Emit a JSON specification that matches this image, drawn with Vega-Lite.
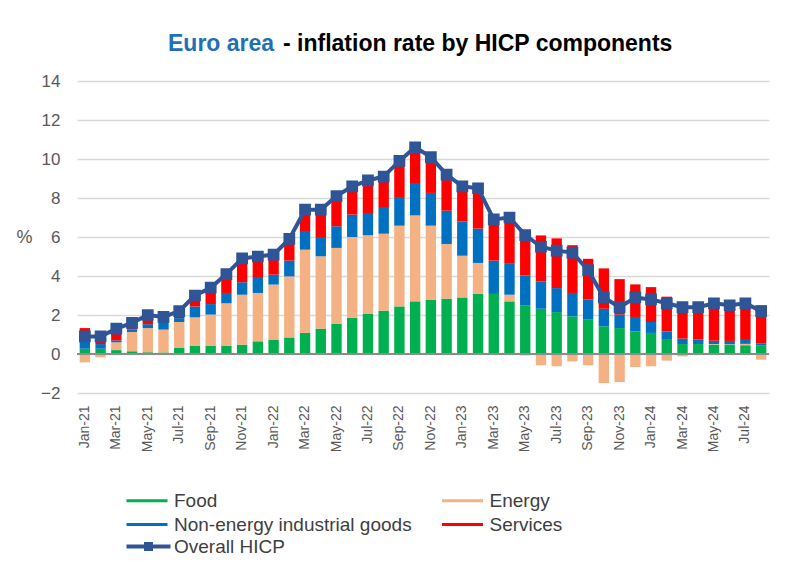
{
  "$schema": "https://vega.github.io/schema/vega-lite/v6.json",
  "width": 692,
  "height": 312,
  "autosize": {"type": "none"},
  "padding": {"left": 77, "top": 81, "right": 23, "bottom": 169},
  "background": "white",
  "title": {
    "text": "Euro area",
    "subtitle": "\u200b\u00a0\u00a0\u00a0\u00a0\u00a0\u00a0\u00a0\u00a0\u00a0\u00a0\u00a0\u00a0\u00a0\u00a0\u00a0\u00a0\u00a0\u00a0- inflation rate by HICP components",
    "anchor": "start",
    "frame": "group",
    "dx": 91,
    "offset": 16,
    "font": "Liberation Sans",
    "fontSize": 23,
    "fontWeight": "bold",
    "color": "#1F70B8",
    "subtitleFont": "Liberation Sans",
    "subtitleFontSize": 23,
    "subtitleFontWeight": "bold",
    "subtitleColor": "#000000",
    "subtitlePadding": -23
  },
  "config": {
    "font": "Liberation Sans",
    "view": {"stroke": null},
    "axisY": {
      "grid": true,
      "gridColor": "#D9D9D9",
      "gridWidth": 1.5,
      "domain": false,
      "ticks": false,
      "labelOverlap": false,
      "labelFontSize": 17,
      "labelColor": "#595959",
      "labelPadding": 17,
      "titleAngle": 0,
      "titleX": -61,
      "titleY": 156,
      "titleAlign": "left",
      "titleBaseline": "middle",
      "titleFontSize": 18,
      "titleFontWeight": "normal",
      "titleColor": "#595959"
    }
  },
  "data": {
    "values": [
      {"month": "Jan-21", "Food": 0.27, "Energy": -0.43, "Non-energy industrial goods": 0.35, "Services": 0.71, "HICP": 0.9},
      {"month": "Feb-21", "Food": 0.27, "Energy": -0.17, "Non-energy industrial goods": 0.24, "Services": 0.56, "HICP": 0.9},
      {"month": "Mar-21", "Food": 0.2, "Energy": 0.4, "Non-energy industrial goods": 0.1, "Services": 0.6, "HICP": 1.3},
      {"month": "Apr-21", "Food": 0.14, "Energy": 0.99, "Non-energy industrial goods": 0.12, "Services": 0.35, "HICP": 1.6},
      {"month": "May-21", "Food": 0.09, "Energy": 1.24, "Non-energy industrial goods": 0.2, "Services": 0.47, "HICP": 2.0},
      {"month": "Jun-21", "Food": 0.08, "Energy": 1.17, "Non-energy industrial goods": 0.4, "Services": 0.25, "HICP": 1.9},
      {"month": "Jul-21", "Food": 0.31, "Energy": 1.33, "Non-energy industrial goods": 0.2, "Services": 0.36, "HICP": 2.2},
      {"month": "Aug-21", "Food": 0.43, "Energy": 1.45, "Non-energy industrial goods": 0.56, "Services": 0.56, "HICP": 3.0},
      {"month": "Sep-21", "Food": 0.43, "Energy": 1.59, "Non-energy industrial goods": 0.54, "Services": 0.84, "HICP": 3.4},
      {"month": "Oct-21", "Food": 0.43, "Energy": 2.17, "Non-energy industrial goods": 0.53, "Services": 0.97, "HICP": 4.1},
      {"month": "Nov-21", "Food": 0.48, "Energy": 2.56, "Non-energy industrial goods": 0.64, "Services": 1.22, "HICP": 4.9},
      {"month": "Dec-21", "Food": 0.65, "Energy": 2.48, "Non-energy industrial goods": 0.77, "Services": 1.1, "HICP": 5.0},
      {"month": "Jan-22", "Food": 0.74, "Energy": 2.82, "Non-energy industrial goods": 0.51, "Services": 1.03, "HICP": 5.1},
      {"month": "Feb-22", "Food": 0.85, "Energy": 3.13, "Non-energy industrial goods": 0.81, "Services": 1.11, "HICP": 5.9},
      {"month": "Mar-22", "Food": 1.08, "Energy": 4.27, "Non-energy industrial goods": 0.91, "Services": 1.14, "HICP": 7.4},
      {"month": "Apr-22", "Food": 1.3, "Energy": 3.71, "Non-energy industrial goods": 0.99, "Services": 1.4, "HICP": 7.4},
      {"month": "May-22", "Food": 1.54, "Energy": 3.9, "Non-energy industrial goods": 1.11, "Services": 1.55, "HICP": 8.1},
      {"month": "Jun-22", "Food": 1.85, "Energy": 4.15, "Non-energy industrial goods": 1.15, "Services": 1.45, "HICP": 8.6},
      {"month": "Jul-22", "Food": 2.05, "Energy": 4.04, "Non-energy industrial goods": 1.14, "Services": 1.67, "HICP": 8.9},
      {"month": "Aug-22", "Food": 2.22, "Energy": 3.95, "Non-energy industrial goods": 1.32, "Services": 1.61, "HICP": 9.1},
      {"month": "Sep-22", "Food": 2.44, "Energy": 4.14, "Non-energy industrial goods": 1.47, "Services": 1.85, "HICP": 9.9},
      {"month": "Oct-22", "Food": 2.7, "Energy": 4.41, "Non-energy industrial goods": 1.66, "Services": 1.83, "HICP": 10.6},
      {"month": "Nov-22", "Food": 2.79, "Energy": 3.79, "Non-energy industrial goods": 1.68, "Services": 1.84, "HICP": 10.1},
      {"month": "Dec-22", "Food": 2.84, "Energy": 2.8, "Non-energy industrial goods": 1.71, "Services": 1.85, "HICP": 9.2},
      {"month": "Jan-23", "Food": 2.9, "Energy": 2.14, "Non-energy industrial goods": 1.76, "Services": 1.8, "HICP": 8.6},
      {"month": "Feb-23", "Food": 3.08, "Energy": 1.59, "Non-energy industrial goods": 1.76, "Services": 2.07, "HICP": 8.5},
      {"month": "Mar-23", "Food": 3.08, "Energy": -0.05, "Non-energy industrial goods": 1.71, "Services": 2.16, "HICP": 6.9},
      {"month": "Apr-23", "Food": 2.7, "Energy": 0.34, "Non-energy industrial goods": 1.62, "Services": 2.34, "HICP": 7.0},
      {"month": "May-23", "Food": 2.48, "Energy": -0.07, "Non-energy industrial goods": 1.55, "Services": 2.14, "HICP": 6.1},
      {"month": "Jun-23", "Food": 2.32, "Energy": -0.58, "Non-energy industrial goods": 1.41, "Services": 2.35, "HICP": 5.5},
      {"month": "Jul-23", "Food": 2.15, "Energy": -0.63, "Non-energy industrial goods": 1.23, "Services": 2.55, "HICP": 5.3},
      {"month": "Aug-23", "Food": 1.93, "Energy": -0.38, "Non-energy industrial goods": 1.2, "Services": 2.45, "HICP": 5.2},
      {"month": "Sep-23", "Food": 1.76, "Energy": -0.58, "Non-energy industrial goods": 1.03, "Services": 2.09, "HICP": 4.3},
      {"month": "Oct-23", "Food": 1.42, "Energy": -1.49, "Non-energy industrial goods": 0.9, "Services": 2.07, "HICP": 2.9},
      {"month": "Nov-23", "Food": 1.33, "Energy": -1.44, "Non-energy industrial goods": 0.69, "Services": 1.82, "HICP": 2.4},
      {"month": "Dec-23", "Food": 1.16, "Energy": -0.67, "Non-energy industrial goods": 0.69, "Services": 1.72, "HICP": 2.9},
      {"month": "Jan-24", "Food": 1.08, "Energy": -0.63, "Non-energy industrial goods": 0.56, "Services": 1.79, "HICP": 2.8},
      {"month": "Feb-24", "Food": 0.77, "Energy": -0.34, "Non-energy industrial goods": 0.39, "Services": 1.78, "HICP": 2.6},
      {"month": "Mar-24", "Food": 0.51, "Energy": -0.12, "Non-energy industrial goods": 0.28, "Services": 1.73, "HICP": 2.4},
      {"month": "Apr-24", "Food": 0.51, "Energy": -0.04, "Non-energy industrial goods": 0.23, "Services": 1.7, "HICP": 2.4},
      {"month": "May-24", "Food": 0.48, "Energy": 0.03, "Non-energy industrial goods": 0.17, "Services": 1.92, "HICP": 2.6},
      {"month": "Jun-24", "Food": 0.48, "Energy": 0.02, "Non-energy industrial goods": 0.17, "Services": 1.83, "HICP": 2.5},
      {"month": "Jul-24", "Food": 0.45, "Energy": 0.07, "Non-energy industrial goods": 0.2, "Services": 1.88, "HICP": 2.6},
      {"month": "Aug-24", "Food": 0.45, "Energy": -0.29, "Non-energy industrial goods": 0.1, "Services": 1.94, "HICP": 2.2}
    ]
  },
  "layer": [
    {
      "transform": [
        {"fold": ["Food", "Energy", "Non-energy industrial goods", "Services"], "as": ["component", "value"]},
        {"window": [{"op": "row_number", "as": "stack_rank"}], "groupby": ["month"]}
      ],
      "mark": {"type": "bar"},
      "encoding": {
        "x": {
          "field": "month",
          "type": "nominal",
          "sort": null,
          "title": null,
          "scale": {"paddingInner": 0.34, "paddingOuter": 0.17},
          "axis": {
            "values": ["Jan-21", "Mar-21", "May-21", "Jul-21", "Sep-21", "Nov-21", "Jan-22", "Mar-22", "May-22", "Jul-22", "Sep-22", "Nov-22", "Jan-23", "Mar-23", "May-23", "Jul-23", "Sep-23", "Nov-23", "Jan-24", "Mar-24", "May-24", "Jul-24"],
            "labelAngle": -90,
            "labelAlign": "right",
            "labelBaseline": "middle",
            "labelFontSize": 14,
            "labelColor": "#595959",
            "labelPadding": 12,
            "labelOverlap": false,
            "ticks": false,
            "domain": false,
            "grid": false
          }
        },
        "y": {
          "field": "value",
          "type": "quantitative",
          "stack": "zero",
          "title": "%",
          "scale": {"domain": [-2, 14], "nice": false},
          "axis": {"values": [-2, 0, 2, 4, 6, 8, 10, 12, 14]}
        },
        "order": {"field": "stack_rank", "type": "quantitative", "sort": "ascending"},
        "color": {
          "field": "component",
          "type": "nominal",
          "scale": {
            "domain": ["Food", "Energy", "Non-energy industrial goods", "Services"],
            "range": ["#00B050", "#F4B183", "#0070C0", "#FF0000"]
          },
          "legend": {
            "orient": "none",
            "legendX": 60.5,
            "legendY": 410,
            "title": null,
            "direction": "horizontal",
            "columns": 2,
            "columnPadding": 29.5,
            "rowPadding": 4,
            "symbolType": "M-4.1,-0.3H4.1V0.3H-4.1Z",
            "symbolSize": 100,
            "symbolStrokeWidth": 0,
            "labelFontSize": 19,
            "labelLimit": 400,
            "labelColor": "#404040",
            "labelOffset": 17.5
          }
        }
      }
    },
    {
      "mark": {"type": "rule", "color": "#8C8C8C", "strokeWidth": 1.5},
      "encoding": {
        "y": {"datum": 0, "axis": {"values": [-2, 0, 2, 4, 6, 8, 10, 12, 14]}}
      }
    },
    {
      "mark": {
        "type": "line",
        "strokeWidth": 4,
        "point": {"shape": "square", "size": 95, "filled": true, "fill": "#2F5597"}
      },
      "encoding": {
        "x": {"field": "month", "type": "nominal", "sort": null, "title": null},
        "y": {"field": "HICP", "type": "quantitative", "title": "%", "axis": {"values": [-2, 0, 2, 4, 6, 8, 10, 12, 14]}},
        "stroke": {
          "datum": "Overall HICP",
          "type": "nominal",
          "scale": {"domain": ["Overall HICP"], "range": ["#2F5597"]},
          "legend": {
            "orient": "none",
            "legendX": 62,
            "legendY": 456,
            "title": null,
            "symbolType": "M-4.4,-0.4H-0.9V-0.9H0.9V-0.4H4.4V0.4H0.9V0.9H-0.9V0.4H-4.4Z",
            "symbolSize": 100,
            "labelFontSize": 19,
            "labelColor": "#404040",
            "labelOffset": 16,
            "encode": {"symbols": {"update": {"fill": {"value": "#2F5597"}, "strokeWidth": {"value": 0}}}}
          }
        }
      }
    }
  ]
}
